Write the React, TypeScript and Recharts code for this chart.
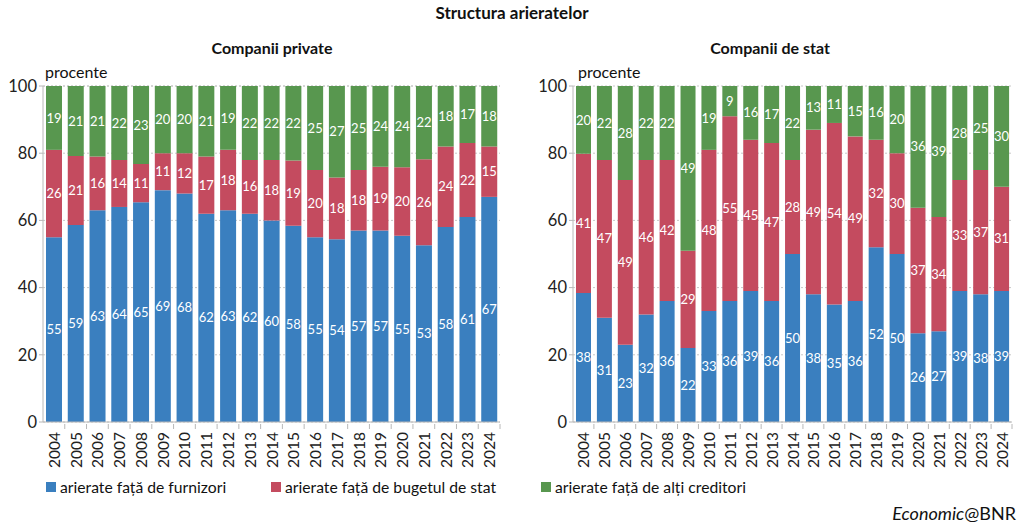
import React from 'react'
import { BarChart, Bar, XAxis, YAxis, CartesianGrid, LabelList } from 'recharts'

const years = [
  '2004', '2005', '2006', '2007', '2008', '2009', '2010', '2011', '2012', '2013', '2014',
  '2015', '2016', '2017', '2018', '2019', '2020', '2021', '2022', '2023', '2024'
]

// Companii private
const privFurnizori = [55, 58.6, 63, 64, 65.4, 69, 68, 62, 63, 62, 60, 58.4, 55, 54.4, 57, 57, 55.4, 52.6, 58, 61, 67]
const privBuget = [26, 20.6, 16, 14, 11.4, 11, 12, 17, 18, 16, 18, 19.4, 20, 18.4, 18, 19, 20.4, 25.6, 24, 22, 15]
const privAlti = [19, 20.8, 21, 22, 23.2, 20, 20, 21, 19, 22, 22, 22.2, 25, 27.2, 25, 24, 24.2, 21.8, 18, 17, 18]

// Companii de stat
const statFurnizori = [38.4, 31, 23, 32, 36, 22, 33, 36, 39, 36, 50, 38, 35, 36, 52, 50, 26.4, 27, 39, 38, 39]
const statBuget = [41.4, 47, 49, 46, 42, 29, 48, 55, 45, 47, 28, 49, 54, 49, 32, 30, 37.4, 34, 33, 37, 31]
const statAlti = [20.2, 22, 28, 22, 22, 49, 19, 9, 16, 17, 22, 13, 11, 15, 16, 20, 36.2, 39, 28, 25, 30]

const yTicks = [0, 20, 40, 60, 80, 100]

const seriesNames = ['arierate față de furnizori', 'arierate față de bugetul de stat', 'arierate față de alți creditori']
const colors = ['#3a7fbf', '#c44b5f', '#58974f']

const FONT = 'Lato, "Open Sans", sans-serif'

const buildRows = (a: number[], b: number[], c: number[]) =>
  years.map((year, i) => ({ year, furnizori: a[i], buget: b[i], alti: c[i] }))

const privateRows = buildRows(privFurnizori, privBuget, privAlti)
const stateRows = buildRows(statFurnizori, statBuget, statAlti)

const YearTick = ({ x, y, payload, band }: any) => (
  <g>
    <line x1={x + band / 2} y1={y - 6} x2={x + band / 2} y2={y - 1} stroke="#b8b8b8" />
    <text
      x={x}
      y={y + 2}
      transform={`rotate(-90, ${x}, ${y + 2})`}
      textAnchor="end"
      dominantBaseline="central"
      fontSize={15.5}
      fontFamily={FONT}
      fill="#222"
    >
      {payload.value}
    </text>
  </g>
)

const StackChart = ({ rows, yAxisWidth, band, barSize }: any) => (
  <BarChart
    width={512}
    height={470}
    data={rows}
    margin={{ top: 86, right: 12, bottom: 0, left: 0 }}
    barSize={barSize}
  >
    <CartesianGrid vertical={false} stroke="#c8c8c8" strokeDasharray="2 2" />
    <XAxis
      dataKey="year"
      interval={0}
      height={48}
      tickLine={false}
      axisLine={{ stroke: '#b8b8b8' }}
      tick={<YearTick band={band} />}
    />
    <YAxis
      domain={[0, 100]}
      ticks={yTicks}
      width={yAxisWidth}
      axisLine={{ stroke: '#b8b8b8' }}
      tickLine={{ stroke: '#b8b8b8' }}
      tickSize={4}
      tick={{ fontSize: 16.5, fill: '#222', fontFamily: FONT }}
    />
    {(['furnizori', 'buget', 'alti'] as const).map((key, i) => (
      <Bar key={key} dataKey={key} stackId="s" fill={colors[i]} isAnimationActive={false}>
        <LabelList
          dataKey={key}
          position="center"
          fill="#ffffff"
          fontSize={13}
          fontFamily={FONT}
          formatter={(v: any) => Math.round(Number(v))}
        />
      </Bar>
    ))}
  </BarChart>
)

const textStyle: React.CSSProperties = {
  position: 'absolute',
  fontFamily: FONT,
  color: '#111',
  whiteSpace: 'nowrap',
  lineHeight: 1.2
}

export default function App() {
  return (
    <div style={{ position: 'absolute', left: 0, top: 0, width: 1024, height: 532, background: '#fff', overflow: 'hidden' }}>
      <div style={{ ...textStyle, left: 0, width: 1024, top: 3, textAlign: 'center', fontWeight: 700, fontSize: 17 }}>
        Structura arieratelor
      </div>
      <div style={{ ...textStyle, left: 172, width: 200, top: 38, textAlign: 'center', fontWeight: 700, fontSize: 16 }}>
        Companii private
      </div>
      <div style={{ ...textStyle, left: 670, width: 200, top: 38, textAlign: 'center', fontWeight: 700, fontSize: 16 }}>
        Companii de stat
      </div>
      <div style={{ ...textStyle, left: 45, top: 62, fontSize: 16 }}>procente</div>
      <div style={{ ...textStyle, left: 578, top: 62, fontSize: 16 }}>procente</div>

      <div style={{ position: 'absolute', left: 0, top: 0 }}>
        <StackChart rows={privateRows} yAxisWidth={43} band={457 / 21} barSize={16} />
      </div>
      <div style={{ position: 'absolute', left: 512, top: 0 }}>
        <StackChart rows={stateRows} yAxisWidth={61} band={439 / 21} barSize={15} />
      </div>

      {seriesNames.map((name, i) => (
        <div key={name} style={{ ...textStyle, left: [46, 271, 541][i], top: 478, fontSize: 15.7, display: 'flex', alignItems: 'center' }}>
          <span style={{ display: 'inline-block', width: 10, height: 10, background: colors[i], marginRight: 4 }} />
          {name}
        </div>
      ))}

      <div style={{ ...textStyle, right: 8, top: 503, fontSize: 18 }}>
        <i>Economic</i>@BNR
      </div>
    </div>
  )
}
